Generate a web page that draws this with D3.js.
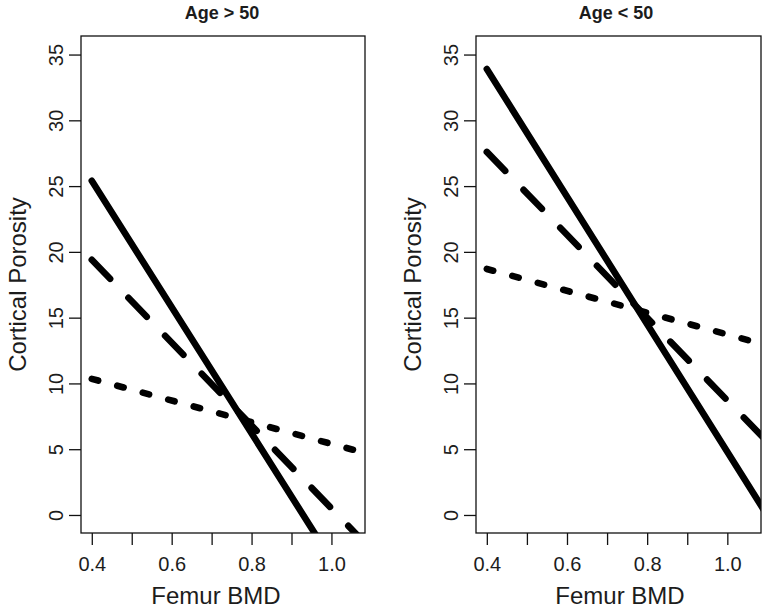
<!DOCTYPE html>
<html>
<head>
<meta charset="utf-8">
<script src="https://cdn.jsdelivr.net/npm/d3@7"></script>
<style>
  html, body { margin: 0; padding: 0; background: #fff; }
  svg { display: block; }
  text { font-family: "Liberation Sans", Arial, Helvetica, sans-serif; fill: #1c1c1c; }
</style>
</head>
<body>
<svg id="chart" width="771" height="614"></svg>
<script>
// ---------------- data ----------------
const panelTitles = ["Age > 50", "Age < 50"];
const xLabel = "Femur BMD";
const yLabel = "Cortical Porosity";
const xTickValues = [0.4, 0.5, 0.6, 0.7, 0.8, 0.9, 1.0];
const xTickLabels = ["0.4", "", "0.6", "", "0.8", "", "1.0"];
const yTickValues = [0, 5, 10, 15, 20, 25, 30, 35];
const lineX = [0.4, 1.1];               // x of the two ends of each fitted line
const seriesNames = ["solid", "dashed", "dotted"];
// y values at lineX for each series, per panel
const olderSolid  = [25.4, -8.2];
const olderDashed = [19.4, -2.65];
const olderDotted = [10.35, 4.58];
const youngerSolid  = [33.9, -0.05];
const youngerDashed = [27.6, 5.55];
const youngerDotted = [18.7, 12.89];
const xDomain = [0.373, 1.084];
const yDomain = [-1.37, 36.41];

// ---------------- layout ----------------
const svg = d3.select("#chart");
const panels = [
  { left: 81,  right: 365, title: panelTitles[0], titleX: 222, xlabX: 216,
    series: [olderSolid, olderDashed, olderDotted] },
  { left: 476, right: 761, title: panelTitles[1], titleX: 616, xlabX: 620,
    series: [youngerSolid, youngerDashed, youngerDotted] }
];
const plotTop = 36, plotBottom = 533;
const lw = 6.6;
const dashes = { solid: null, dashed: `${4*lw} ${4*lw}`, dotted: `${lw} ${3*lw}` };

panels.forEach((p, i) => {
  const x = d3.scaleLinear().domain(xDomain).range([p.left, p.right]);
  const y = d3.scaleLinear().domain(yDomain).range([plotBottom, plotTop]);
  const g = svg.append("g");

  const clipId = "clip" + i;
  svg.append("clipPath").attr("id", clipId)
    .append("rect").attr("x", p.left).attr("y", plotTop)
    .attr("width", p.right - p.left).attr("height", plotBottom - plotTop);

  // lines
  const line = d3.line().x(d => x(d[0])).y(d => y(d[1]));
  const lg = g.append("g").attr("clip-path", `url(#${clipId})`);
  p.series.forEach((vals, k) => {
    const pts = lineX.map((xv, j) => [xv, vals[j]]);
    lg.append("path")
      .attr("d", line(pts))
      .attr("fill", "none")
      .attr("stroke", "#000")
      .attr("stroke-width", lw)
      .attr("stroke-linecap", "round")
      .attr("stroke-linejoin", "round")
      .attr("stroke-dasharray", dashes[seriesNames[k]]);
  });

  // box
  g.append("rect")
    .attr("x", p.left).attr("y", plotTop)
    .attr("width", p.right - p.left).attr("height", plotBottom - plotTop)
    .attr("fill", "none").attr("stroke", "#111").attr("stroke-width", 1.3);

  // x axis
  const xa = g.append("g").attr("transform", `translate(0,${plotBottom})`)
    .call(d3.axisBottom(x).tickValues(xTickValues).tickSize(12)
      .tickFormat((d, j) => xTickLabels[j]));
  xa.select(".domain").remove();
  xa.selectAll(".tick line").attr("stroke", "#111").attr("stroke-width", 1.3);
  xa.selectAll(".tick text")
    .attr("y", 38).attr("dy", 0)
    .style("font-size", "20px")
    .style("font-family", '"Liberation Sans", Arial, sans-serif')
    .attr("fill", "#1c1c1c");

  // y axis
  const ya = g.append("g").attr("transform", `translate(${p.left},0)`)
    .call(d3.axisLeft(y).tickValues(yTickValues).tickSize(12).tickFormat(d3.format("d")));
  ya.select(".domain").remove();
  ya.selectAll(".tick line").attr("stroke", "#111").attr("stroke-width", 1.3);
  ya.selectAll(".tick text")
    .attr("transform", "rotate(-90)")
    .attr("x", 0).attr("y", -18).attr("dy", 0)
    .attr("text-anchor", "middle")
    .style("font-size", "20px")
    .style("font-family", '"Liberation Sans", Arial, sans-serif')
    .attr("fill", "#1c1c1c");

  // title
  g.append("text")
    .attr("x", p.titleX).attr("y", 19)
    .attr("text-anchor", "middle")
    .style("font-size", "18px").style("font-weight", "bold")
    .attr("fill", "#000")
    .text(p.title);

  // x label
  g.append("text")
    .attr("x", p.xlabX).attr("y", 604)
    .attr("text-anchor", "middle")
    .style("font-size", "24px")
    .text(xLabel);

  // y label
  const cy = (plotTop + plotBottom) / 2;
  g.append("text")
    .attr("transform", `translate(${p.left - 55.5},${cy}) rotate(-90)`)
    .attr("text-anchor", "middle")
    .style("font-size", "24px")
    .text(yLabel);
});
</script>
</body>
</html>
